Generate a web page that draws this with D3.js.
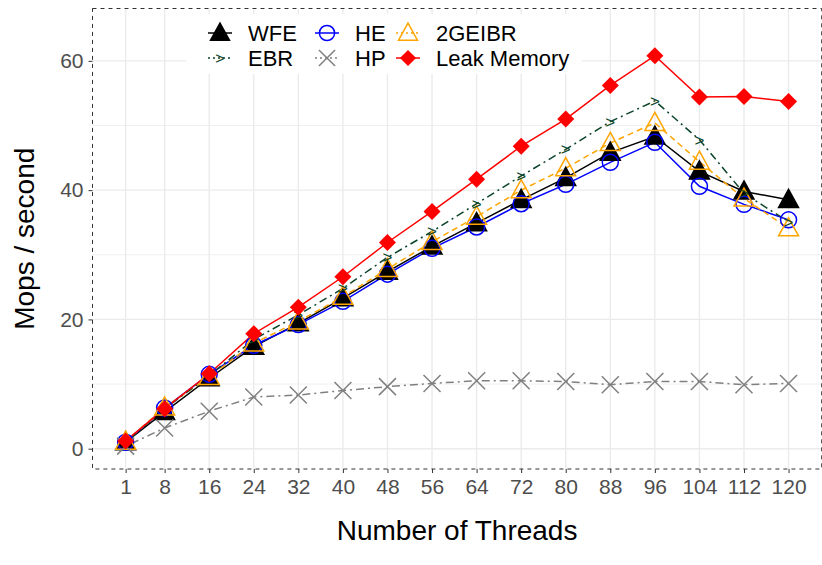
<!DOCTYPE html>
<html>
<head>
<meta charset="utf-8">
<script src="https://cdn.jsdelivr.net/npm/d3@7"></script>
<style>
  body { margin: 0; background: #fff; }
  svg { display: block; font-family: "Liberation Sans", Arial, sans-serif; }
</style>
</head>
<body>
<svg id="chart"></svg>
<script>
// values
const threads = [1, 8, 16, 24, 32, 40, 48, 56, 64, 72, 80, 88, 96, 104, 112, 120];
const wfe   = [1.0, 5.7, 10.9, 15.8, 19.4, 23.3, 27.4, 31.3, 34.9, 38.5, 41.9, 45.8, 48.3, 42.9, 39.8, 38.5];
const he    = [1.0, 6.3, 11.5, 16.0, 19.2, 22.8, 27.0, 31.0, 34.3, 37.9, 40.9, 44.3, 47.4, 40.6, 37.8, 35.4];
const geibr = [1.1, 6.4, 11.1, 16.3, 19.7, 23.5, 27.8, 32.0, 35.9, 40.0, 43.4, 47.3, 50.4, 44.4, 38.7, 34.1];
const ebr   = [1.0, 6.2, 11.3, 16.9, 20.7, 24.8, 29.6, 33.6, 37.9, 42.2, 46.3, 50.6, 53.8, 47.8, 39.5, 35.1];
const hp    = [0.4, 3.2, 5.8, 8.0, 8.3, 9.0, 9.6, 10.1, 10.5, 10.5, 10.4, 9.9, 10.4, 10.4, 9.9, 10.1];
const leak  = [1.2, 6.2, 11.6, 17.8, 21.9, 26.6, 31.9, 36.7, 41.7, 46.8, 51.0, 56.2, 60.8, 54.4, 54.5, 53.7];
const yTicks = [0, 20, 40, 60];
const yMinor = [10, 30, 50];

const series = [
  { name: "WFE",         values: wfe,   color: "#000000", dash: null,        shape: "triFill" },
  { name: "HE",          values: he,    color: "#0000FF", dash: null,        shape: "circle" },
  { name: "2GEIBR",      values: geibr, color: "#FFA500", dash: "6,4",       shape: "triOpen" },
  { name: "EBR",         values: ebr,   color: "#0B4429", dash: "2,4,8,4",   shape: "gt" },
  { name: "HP",          values: hp,    color: "#808080", dash: "2,4,8,4",   shape: "cross" },
  { name: "Leak Memory", values: leak,  color: "#FF0000", dash: null,        shape: "diamond" }
];

const W = 822, H = 565;
const panel = { left: 92.5, right: 821.7, top: 8.5, bottom: 469 };

const svg = d3.select("#chart").attr("width", W).attr("height", H);

const x = d3.scaleLinear().domain([-4.95, 125.95]).range([panel.left, panel.right]);
const y = d3.scaleLinear().domain([-3.14, 68.1]).range([panel.bottom, panel.top]);

// grid
const grid = svg.append("g");
yMinor.forEach(v => {
  grid.append("line")
    .attr("x1", panel.left).attr("x2", panel.right)
    .attr("y1", y(v)).attr("y2", y(v))
    .attr("stroke", "#EFEFEF").attr("stroke-width", 1);
});
yTicks.forEach(v => {
  grid.append("line")
    .attr("x1", panel.left).attr("x2", panel.right)
    .attr("y1", y(v)).attr("y2", y(v))
    .attr("stroke", "#EBEBEB").attr("stroke-width", 1.4);
});
threads.forEach(t => {
  grid.append("line")
    .attr("x1", x(t)).attr("x2", x(t))
    .attr("y1", panel.top).attr("y2", panel.bottom)
    .attr("stroke", "#EBEBEB").attr("stroke-width", 1.4);
});

// marker drawing
function drawShape(g, shape, color, cx, cy, scale) {
  const s = scale || 1;
  if (shape === "triFill" || shape === "triOpen") {
    const r = 10.5 * s;
    const pts = [[cx, cy - r], [cx + r * 0.95, cy + r * 0.72], [cx - r * 0.95, cy + r * 0.72]];
    g.append("path")
      .attr("d", "M" + pts.join("L") + "Z")
      .attr("fill", shape === "triFill" ? color : "none")
      .attr("stroke", color).attr("stroke-width", 1.5)
      .attr("stroke-linejoin", "miter");
  } else if (shape === "circle") {
    g.append("circle").attr("cx", cx).attr("cy", cy).attr("r", 8 * s)
      .attr("fill", "none").attr("stroke", color).attr("stroke-width", 1.5);
  } else if (shape === "diamond") {
    const r = 8.5 * s;
    g.append("path")
      .attr("d", `M${cx},${cy - r}L${cx + r},${cy}L${cx},${cy + r}L${cx - r},${cy}Z`)
      .attr("fill", color);
  } else if (shape === "cross") {
    const r = 8.5 * s;
    g.append("path")
      .attr("d", `M${cx - r},${cy - r}L${cx + r},${cy + r}M${cx - r},${cy + r}L${cx + r},${cy - r}`)
      .attr("stroke", color).attr("stroke-width", 1.5).attr("fill", "none");
  } else if (shape === "gt") {
    g.append("text").attr("x", cx).attr("y", cy).attr("dy", "0.35em")
      .attr("text-anchor", "middle")
      .attr("font-size", 17 * s)
      .attr("fill", color)
      .text(">");
  }
}

// lines
const line = d3.line().x(d => x(d[0])).y(d => y(d[1]));
const linesG = svg.append("g");
series.forEach(s => {
  linesG.append("path")
    .datum(threads.map((t, i) => [t, s.values[i]]))
    .attr("d", line)
    .attr("fill", "none")
    .attr("stroke", s.color)
    .attr("stroke-width", 1.5)
    .attr("stroke-dasharray", s.dash);
});

// points
const pointsG = svg.append("g");
series.forEach(s => {
  threads.forEach((t, i) => drawShape(pointsG, s.shape, s.color, x(t), y(s.values[i])));
});

// panel border
svg.append("rect")
  .attr("x", panel.left).attr("y", panel.top)
  .attr("width", panel.right - panel.left).attr("height", panel.bottom - panel.top)
  .attr("fill", "none").attr("stroke", "#333").attr("stroke-width", 1)
  .attr("stroke-dasharray", "4,4");

// axes
const xAxis = svg.append("g")
  .attr("transform", `translate(0,${panel.bottom})`)
  .call(d3.axisBottom(x).tickValues(threads).tickSize(4).tickPadding(6));
const yAxis = svg.append("g")
  .attr("transform", `translate(${panel.left},0)`)
  .call(d3.axisLeft(y).tickValues(yTicks).tickSize(4).tickPadding(5));
[xAxis, yAxis].forEach(a => {
  a.select(".domain").remove();
  a.selectAll(".tick line").attr("stroke", "#333").attr("stroke-width", 1);
  a.selectAll(".tick text")
    .attr("fill", "#4D4D4D")
    .attr("font-size", 21)
    .attr("font-family", "Liberation Sans, Arial, sans-serif");
});

// axis titles
svg.append("text")
  .attr("x", (panel.left + panel.right) / 2).attr("y", 540)
  .attr("text-anchor", "middle").attr("font-size", 28).attr("fill", "#000")
  .text("Number of Threads");
svg.append("text")
  .attr("transform", `translate(34,${(panel.top + panel.bottom) / 2}) rotate(-90)`)
  .attr("text-anchor", "middle").attr("font-size", 28).attr("fill", "#000")
  .text("Mops / second");

// legend
const legend = svg.append("g");
legend.append("rect")
  .attr("x", 186).attr("y", 14).attr("width", 396).attr("height", 60)
  .attr("fill", "#fff");
const colX = [220, 327, 408];
const rowY = [33, 58];
series.forEach((s, i) => {
  const kx = colX[i % 3], ky = rowY[Math.floor(i / 3)];
  legend.append("line")
    .attr("x1", kx - 12).attr("x2", kx + 12).attr("y1", ky).attr("y2", ky)
    .attr("stroke", s.color).attr("stroke-width", 1.5)
    .attr("stroke-dasharray", s.dash ? "2,3" : null);
  drawShape(legend, s.shape, s.color, kx, ky, 0.95);
  legend.append("text")
    .attr("x", kx + 28).attr("y", ky).attr("dy", "0.36em")
    .attr("font-size", 22).attr("fill", "#000")
    .text(s.name);
});
</script>
</body>
</html>
